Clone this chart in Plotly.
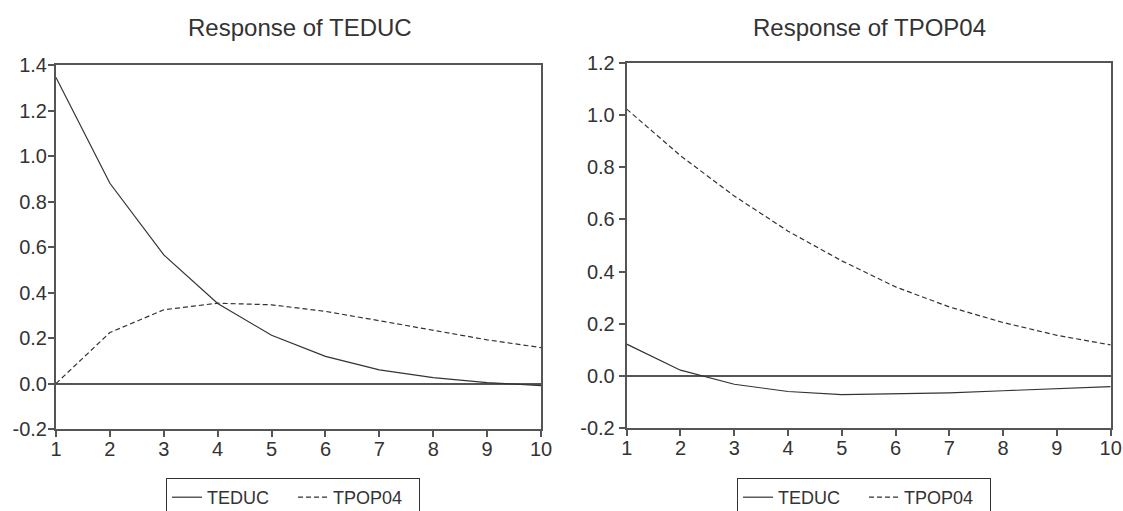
import plotly.graph_objects as go

# Forecast horizon (periods after the shock)
periods = [1, 2, 3, 4, 5, 6, 7, 8, 9, 10]

# Response of TEDUC to shocks in TEDUC and TPOP04
teduc_resp_teduc = [1.345, 0.880, 0.565, 0.352, 0.212, 0.119, 0.060, 0.026, 0.004, -0.009]
teduc_resp_tpop04 = [0.000, 0.224, 0.324, 0.353, 0.346, 0.317, 0.276, 0.235, 0.192, 0.158]

# Response of TPOP04 to shocks in TEDUC and TPOP04
tpop04_resp_teduc = [0.121, 0.021, -0.033, -0.061, -0.073, -0.070, -0.066, -0.058, -0.050, -0.042]
tpop04_resp_tpop04 = [1.024, 0.845, 0.690, 0.555, 0.441, 0.341, 0.264, 0.204, 0.155, 0.118]

panel_titles = ["Response of TEDUC", "Response of TPOP04"]
shock_names = ["TEDUC", "TPOP04"]

# y tick values per panel (labels use a plain hyphen for negatives)
yticks_left = [-0.2, 0.0, 0.2, 0.4, 0.6, 0.8, 1.0, 1.2, 1.4]
yticks_right = [-0.2, 0.0, 0.2, 0.4, 0.6, 0.8, 1.0, 1.2]

W, H = 1123, 511
FONT = "Liberation Sans, Arial, Helvetica, sans-serif"
TEXT = "#333333"
LINE = "#333333"
AXIS = "#555555"

# plot-area boxes in pixels (left, right, top, bottom)
boxes = [(56, 541, 65, 429), (626.7, 1110.7, 63.3, 427.7)]
yticks = [yticks_left, yticks_right]


def px_x(v):
    return v / W


def px_y(v):
    return (H - v) / H


def fmt(v):
    return "%.1f" % v


fig = go.Figure()

panels = [
    (teduc_resp_teduc, teduc_resp_tpop04),
    (tpop04_resp_teduc, tpop04_resp_tpop04),
]

for i, (solid, dashed) in enumerate(panels):
    xa = "x" if i == 0 else "x2"
    ya = "y" if i == 0 else "y2"
    lg = "legend" if i == 0 else "legend2"
    fig.add_trace(go.Scatter(
        x=periods, y=solid, mode="lines", name=shock_names[0],
        line=dict(color=LINE, width=1.2), xaxis=xa, yaxis=ya, legend=lg,
    ))
    fig.add_trace(go.Scatter(
        x=periods, y=dashed, mode="lines", name=shock_names[1],
        line=dict(color=LINE, width=1.2, dash="5px,3px"), xaxis=xa, yaxis=ya, legend=lg,
    ))

axis_common = dict(
    showline=True, linecolor=AXIS, linewidth=2, mirror=True,
    ticks="outside", ticklen=6, tickwidth=1.5, tickcolor=AXIS,
    showgrid=False, tickfont=dict(family=FONT, size=20, color=TEXT),
)

layout_axes = {}
for i, (l, r, t, b) in enumerate(boxes):
    sx = "" if i == 0 else "2"
    layout_axes["xaxis" + sx] = dict(
        axis_common, domain=[px_x(l), px_x(r)], range=[1, 10],
        tickmode="array", tickvals=periods, ticktext=[str(p) for p in periods],
        zeroline=False, anchor="y" + sx, ticklabelstandoff=-5,
    )
    layout_axes["yaxis" + sx] = dict(
        axis_common, domain=[px_y(b), px_y(t)],
        range=[yticks[i][0], yticks[i][-1]],
        tickmode="array", tickvals=yticks[i], ticktext=[fmt(v) for v in yticks[i]],
        zeroline=True, zerolinecolor=AXIS, zerolinewidth=1.8,
        anchor="x" + sx, ticklabelstandoff=-3 if i == 0 else 0,
    )

annotations = []
for i, (l, r, t, b) in enumerate(boxes):
    annotations.append(dict(
        text=panel_titles[i], xref="paper", yref="paper",
        x=px_x((l + r) / 2 + 1), y=px_y(27), xanchor="center", yanchor="middle",
        showarrow=False, font=dict(family=FONT, size=24, color=TEXT),
    ))

legend_common = dict(
    orientation="h", xanchor="left", yanchor="top",
    bordercolor="#333333", borderwidth=1, bgcolor="white",
    font=dict(family=FONT, size=18, color=TEXT),
    entrywidth=81,
)

fig.update_layout(
    width=W, height=H,
    margin=dict(l=0, r=0, t=0, b=0, autoexpand=False),
    paper_bgcolor="white", plot_bgcolor="white",
    showlegend=True,
    annotations=annotations,
    legend=dict(legend_common, x=px_x(166), y=px_y(478)),
    legend2=dict(legend_common, x=px_x(737), y=px_y(478)),
    **layout_axes,
)

fig.write_html("out.html")
